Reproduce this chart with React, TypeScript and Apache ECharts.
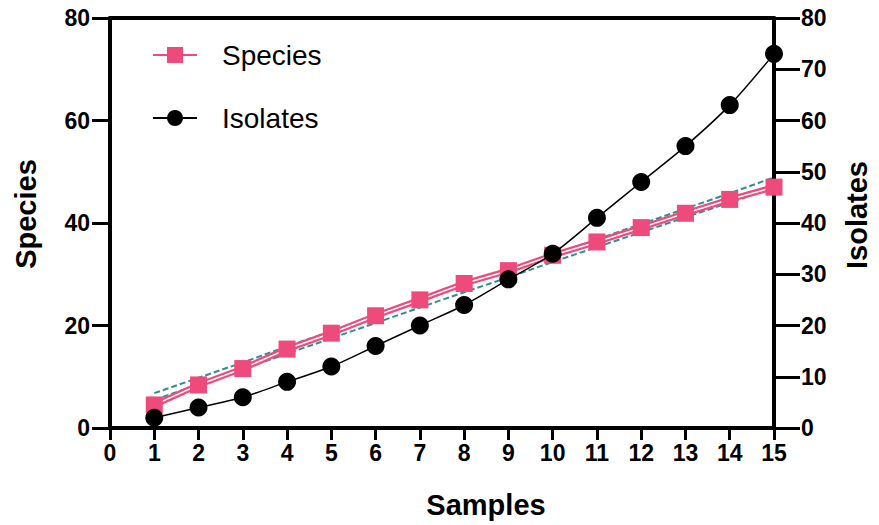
import React, { useEffect, useRef } from "react";
import * as echarts from "echarts";

const samples = [1, 2, 3, 4, 5, 6, 7, 8, 9, 10, 11, 12, 13, 14, 15];
const species = [4.5, 8.4, 11.6, 15.4, 18.5, 21.9, 25.0, 28.2, 30.7, 33.7, 36.3, 39.1, 41.9, 44.6, 47.0];
const isolates = [2, 4, 6, 9, 12, 16, 20, 24, 29, 34, 41, 48, 55, 63, 73];
const ciUpper = [6.8, 9.8, 12.8, 15.9, 18.9, 21.9, 24.9, 27.9, 30.8, 33.8, 36.8, 39.8, 42.8, 45.8, 48.9];
const ciLower = [5.5, 8.5, 11.5, 14.5, 17.5, 20.5, 23.5, 26.5, 29.4, 32.4, 35.3, 38.2, 41.1, 44.0, 46.8];
const leftTicks = { min: 0, max: 80, interval: 20 };
const rightTicks = { min: 0, max: 80, interval: 10 };
const xTicks = { min: 0, max: 15, interval: 1 };
const legendNames = ["Species", "Isolates"];

const PINK = "#EF4A7C";
const TEAL = "#2F8F93";
const FONT = "Liberation Sans, Arial, sans-serif";

const pts = (ys: number[]) => samples.map((x, i) => [x, ys[i]]);

export default function App() {
  const ref = useRef<HTMLDivElement>(null);
  useEffect(() => {
    if (!ref.current) return;
    const chart = echarts.init(ref.current, null, { renderer: "svg" });
    const axisLine = { show: true, onZero: false, lineStyle: { color: "#000", width: 4 } };
    const labelStyle = { color: "#000", fontFamily: FONT, fontWeight: "bold" as const, fontSize: 23 };
    const titleStyle = { color: "#000", fontFamily: FONT, fontWeight: "bold" as const, fontSize: 29 };
    chart.setOption({
      animation: false,
      grid: { left: 110, right: 105, top: 18, bottom: 97 },
      graphic: [
        { type: "line", shape: { x1: 153, y1: 55, x2: 197, y2: 55 }, style: { stroke: PINK, lineWidth: 2 } },
        { type: "rect", shape: { x: 167, y: 47, width: 16, height: 16 }, style: { fill: PINK } },
        { type: "text", x: 222, y: 55, style: { text: legendNames[0], font: `28px ${FONT}`, fill: "#000", verticalAlign: "middle" } },
        { type: "line", shape: { x1: 153, y1: 118, x2: 197, y2: 118 }, style: { stroke: "#000", lineWidth: 2 } },
        { type: "circle", shape: { cx: 175, cy: 118, r: 8 }, style: { fill: "#000" } },
        { type: "text", x: 222, y: 118, style: { text: legendNames[1], font: `28px ${FONT}`, fill: "#000", verticalAlign: "middle" } },
      ],
      xAxis: [
        {
          type: "value",
          ...xTicks,
          axisLine,
          axisTick: { show: true, length: 12, lineStyle: { color: "#000", width: 3 } },
          axisLabel: { ...labelStyle, margin: 13 },
          splitLine: { show: false },
          name: "Samples",
          nameLocation: "middle",
          nameGap: 62,
          nameTextStyle: { ...titleStyle, padding: [0, 0, 0, 88] },
        },
        {
          type: "value",
          ...xTicks,
          position: "top",
          axisLine,
          axisTick: { show: false },
          axisLabel: { show: false },
          splitLine: { show: false },
        },
      ],
      yAxis: [
        {
          type: "value",
          ...leftTicks,
          position: "left",
          axisLine,
          axisTick: { show: true, length: 18, lineStyle: { color: "#000", width: 3 } },
          axisLabel: { ...labelStyle, margin: 20 },
          splitLine: { show: false },
          name: "Species",
          nameLocation: "middle",
          nameGap: 70,
          nameRotate: 90,
          nameTextStyle: { ...titleStyle, padding: [0, 0, 0, 18] },
        },
        {
          type: "value",
          ...rightTicks,
          position: "right",
          axisLine,
          axisTick: { show: true, length: 26, lineStyle: { color: "#000", width: 3 } },
          axisLabel: { ...labelStyle, margin: 27 },
          splitLine: { show: false },
          name: "Isolates",
          nameLocation: "middle",
          nameGap: 68,
          nameRotate: 90,
          nameTextStyle: { ...titleStyle, padding: [0, 0, 0, 16] },
        },
      ],
      series: [
        {
          type: "line",
          data: pts(ciUpper),
          showSymbol: false,
          lineStyle: { color: TEAL, width: 2, type: [6, 3] },
          z: 1,
          silent: true,
        },
        {
          type: "line",
          data: pts(ciLower),
          showSymbol: false,
          lineStyle: { color: TEAL, width: 2, type: [6, 3] },
          z: 1,
          silent: true,
        },
        {
          name: "Species",
          type: "line",
          data: pts(species),
          showSymbol: false,
          lineStyle: { color: PINK, width: 6 },
          itemStyle: { color: PINK },
          z: 2,
        },
        {
          type: "line",
          data: pts(species),
          showSymbol: false,
          lineStyle: { color: "#fff", width: 1.5 },
          z: 3,
          silent: true,
        },
        {
          type: "scatter",
          data: pts(species),
          symbol: "rect",
          symbolSize: 17,
          itemStyle: { color: PINK, opacity: 1 },
          z: 4,
        },
        {
          name: "Isolates",
          type: "line",
          yAxisIndex: 1,
          data: pts(isolates),
          smooth: 0.3,
          symbol: "circle",
          symbolSize: 18,
          showSymbol: true,
          lineStyle: { color: "#000", width: 1.5 },
          itemStyle: { color: "#000" },
          z: 5,
        },
      ],
    });
    return () => chart.dispose();
  }, []);
  return <div ref={ref} style={{ width: 879, height: 525, position: "absolute", left: 0, top: 0 }} />;
}
